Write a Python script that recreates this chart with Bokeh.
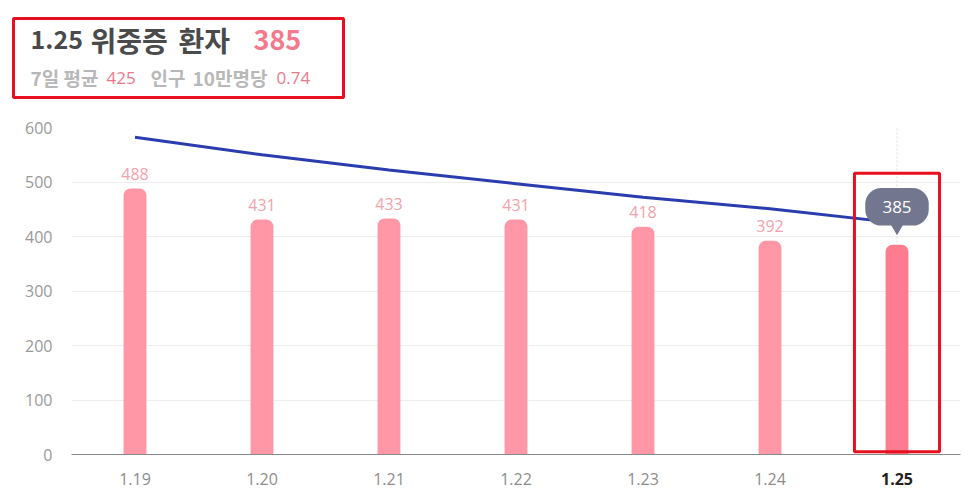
from bokeh.plotting import figure
from bokeh.models import Range1d, FactorRange, FixedTicker
from bokeh.layouts import column
from bokeh.core.properties import value
from bokeh.embed import file_html
from bokeh.resources import INLINE

# ---- data ----
dates = ["1.19", "1.20", "1.21", "1.22", "1.23", "1.24", "1.25"]
patients = [488, 431, 433, 431, 418, 392, 385]
avg7 = [582, 550, 522, 497, 472, 451, 425]
today = "1.25"
today_count = 385
avg7_today = 425
per100k = 0.74
y_ticks = [0, 100, 200, 300, 400, 500, 600]

KR = "Noto Sans CJK KR"
NUM = "Open Sans"
W = 972
LEFT, RIGHT = 71, 12

# ---- header (data coordinates == page pixels) ----
H_HEAD = 113
h = figure(width=W, height=H_HEAD, x_range=Range1d(LEFT, W - RIGHT),
           y_range=Range1d(H_HEAD, 0), toolbar_location=None, output_backend="svg",
           min_border_left=LEFT, min_border_right=RIGHT, min_border_top=0,
           min_border_bottom=0, x_axis_location=None, y_axis_location=None,
           outline_line_color=None)
h.grid.visible = False
h.quad(left=[13], right=[343], top=[18], bottom=[97], fill_alpha=0,
       line_color="#e8101e", line_width=3, level="overlay")


def htext(x, y, s, font, size, color, bold):
    h.text(x=[x], y=[y], text=[s], text_font=value(font), text_font_size=value(size),
           text_font_style="bold" if bold else "normal", text_color=color,
           text_baseline="middle", level="overlay")


TY, SY = 39, 77
htext(30, TY, today, KR, "25px", "#4a4a4a", True)
htext(90, TY, "위중증", KR, "28px", "#4a4a4a", True)
htext(178, TY, "환자", KR, "28px", "#4a4a4a", True)
htext(253, TY, str(today_count), KR, "27px", "#f27a8c", True)
htext(30, SY, "7일 평균", KR, "19px", "#b8b8b8", True)
htext(106, SY, str(avg7_today), NUM, "17px", "#e87a8c", False)
htext(150, SY, "인구", KR, "19px", "#b8b8b8", True)
htext(192, SY, "10만명당", KR, "19px", "#b8b8b8", True)
htext(276, SY, f"{per100k:.2f}", NUM, "17px", "#e87a8c", False)

# ---- main chart ----
p = figure(width=W, height=383, x_range=FactorRange(*dates), y_range=Range1d(0, 600),
           toolbar_location=None, output_backend="svg",
           min_border_left=LEFT, min_border_right=RIGHT, min_border_top=14,
           min_border_bottom=42, outline_line_color=None)
p.xgrid.visible = False
p.ygrid.grid_line_color = "#eeeeee"
p.ygrid.ticker = FixedTicker(ticks=y_ticks)
p.yaxis.ticker = FixedTicker(ticks=y_ticks)
p.yaxis.axis_line_color = None
p.yaxis.major_tick_line_color = None
p.yaxis.minor_tick_line_color = None
p.yaxis.major_label_text_color = "#999999"
p.yaxis.major_label_text_font = NUM
p.yaxis.major_label_text_font_size = "16px"
p.yaxis.major_label_standoff = 13
p.xaxis.axis_line_color = "#8a8a8a"
p.xaxis.major_tick_line_color = None
p.xaxis.minor_tick_line_color = None
p.xaxis.major_label_text_alpha = 0

# vertical dotted guide at today
p.segment(x0=[today], y0=[0], x1=[today], y1=[600], line_color="#dddddd",
          line_dash="2 2", line_width=1)

colors = ["#ff97a7"] * (len(dates) - 1) + ["#ff7b8f"]
p.vbar(x=dates, top=patients, width=0.18, bottom=0, fill_color=colors, line_color=None,
       border_radius=(7, 7, 0, 0))
p.text(x=dates[:-1], y=patients[:-1], text=[str(v) for v in patients[:-1]],
       text_font=value(NUM), text_font_size=value("16px"), text_color="#f2a2ac",
       text_align="center", text_baseline="bottom", y_offset=-9)

p.line(x=dates, y=avg7, line_color="#2a3cae", line_width=3)

# tooltip bubble over today's bar
tb = today_count + 35
tt = today_count + 104
p.vbar(x=[today], bottom=[tb], top=[tt], width=0.5, fill_color="#72778f",
       line_color=None, border_radius=16)
p.scatter(x=[today], y=[today_count + 31], marker="inverted_triangle", size=13,
          fill_color="#72778f", line_color=None)
p.text(x=[today], y=[(tb + tt) / 2], text=[str(today_count)], text_font=value(NUM),
       text_font_size=value("17px"), text_color="white", text_align="center",
       text_baseline="middle")

# red highlight box around today's bar
p.vbar(x=[today], bottom=[5], top=[today_count + 131], width=0.67, fill_alpha=0,
       line_color="#e8101e", line_width=3)

# x-axis category labels (today's in bold)
p.text(x=dates[:-1], y=[0] * (len(dates) - 1), y_offset=24, text=dates[:-1],
       text_font=value(NUM), text_font_size=value("16px"), text_color="#8c8c8c",
       text_align="center", text_baseline="middle", level="overlay")
p.text(x=[today], y=[0], y_offset=24, text=[today], text_font=value(NUM),
       text_font_size=value("16px"), text_font_style="bold", text_color="#222222",
       text_align="center", text_baseline="middle", level="overlay")

layout = column(h, p, spacing=0)
open("out.html", "w").write(file_html(layout, INLINE))
